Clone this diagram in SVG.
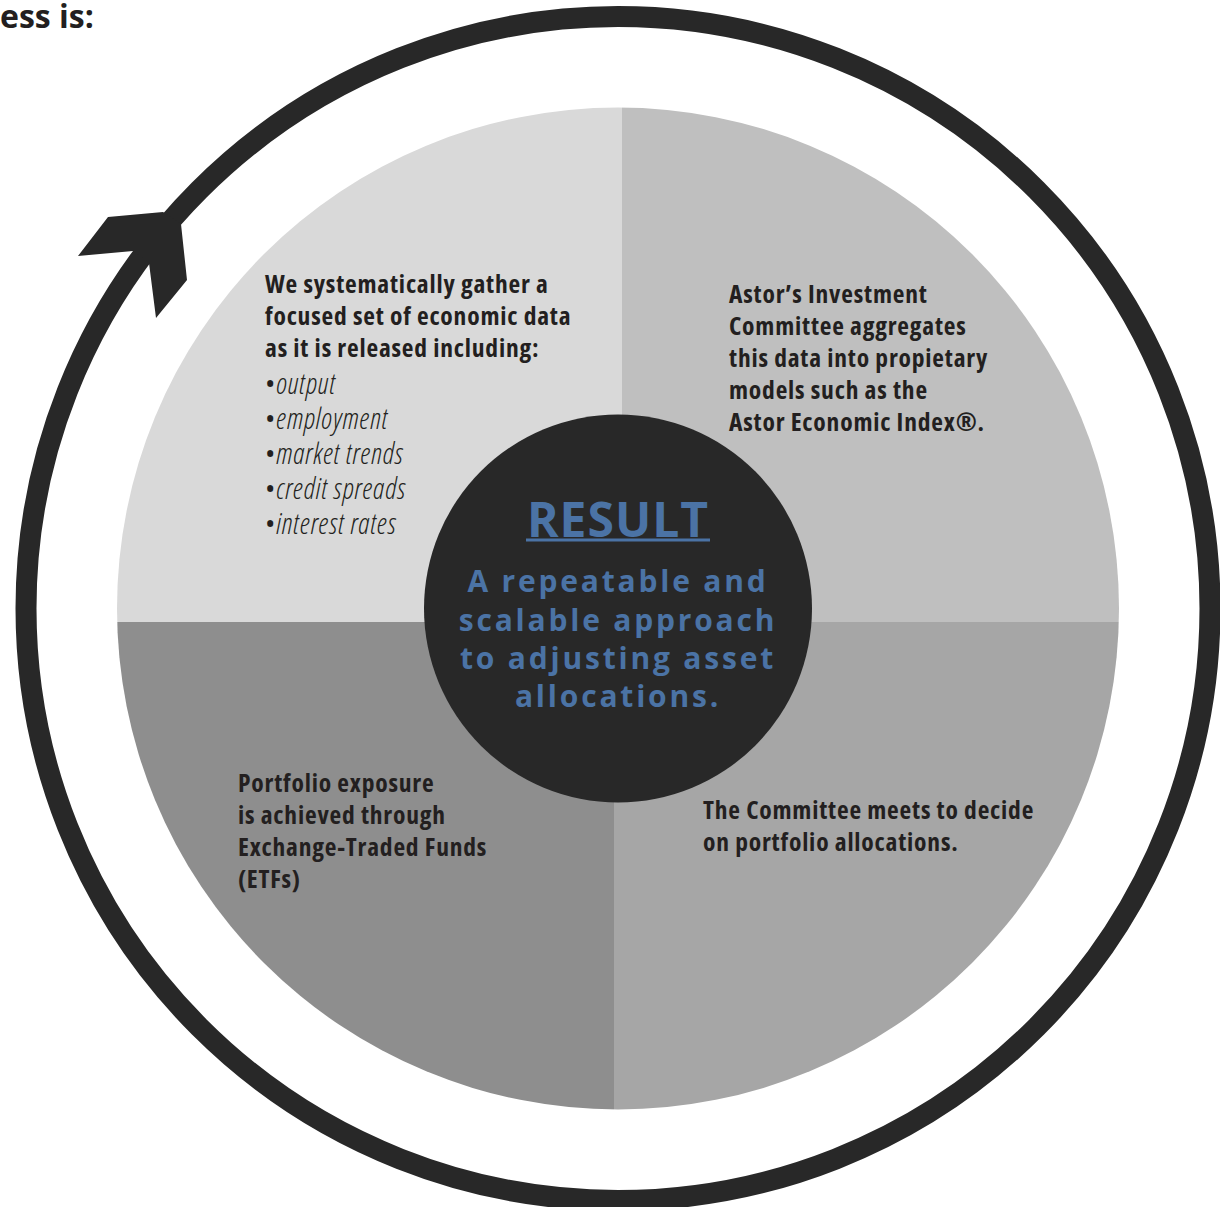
<svg xmlns="http://www.w3.org/2000/svg" width="1220" height="1207" viewBox="0 0 1220 1207">
  <defs>
    <clipPath id="pie-clip">
      <circle cx="618" cy="608.5" r="501"/>
    </clipPath>
    <style>
      .body { font-family: "Open Sans", "Liberation Sans", sans-serif; font-stretch: 82%; font-weight: 700; font-size: 25.5px; letter-spacing: 0.8px; fill: #231f20; }
      .item { font-family: "Open Sans", "Liberation Sans", sans-serif; font-stretch: 80%; font-weight: 300; font-style: italic; font-size: 28.5px; letter-spacing: 0.8px; fill: #231f20; }
      .bullet { font-style: normal; }
      .result { font-family: "Open Sans", "Liberation Sans", sans-serif; font-weight: 700; fill: #4b73a5; text-anchor: middle; }
      .heading { font-family: "Open Sans", "Liberation Sans", sans-serif; font-weight: 700; font-size: 32px; fill: #231f20; }
    </style>
  </defs>

  <rect width="1220" height="1207" fill="#ffffff"/>

  <text class="heading" x="0" y="28">ess is:</text>

  <!-- four process steps as pie quadrants -->
  <g clip-path="url(#pie-clip)">
    <g id="step-gather"><rect x="100" y="90" width="522" height="532" fill="#d9d9d9"/></g>
    <g id="step-aggregate"><rect x="622" y="90" width="520" height="532" fill="#bfbfbf"/></g>
    <g id="step-decide"><rect x="614" y="622" width="528" height="500" fill="#a6a6a6"/></g>
    <g id="step-execute"><rect x="100" y="622" width="514" height="500" fill="#8e8e8e"/></g>
  </g>

  <!-- cycle ring with direction arrow -->
  <g id="connectors">
    <circle cx="618" cy="608.5" r="592" fill="none" stroke="#282828" stroke-width="21"/>
    <polygon points="78,256 108,217 163,212 181,224 187,280 156,318 149,263 133,251" fill="#282828"/>
  </g>

  <g id="label-gather">
    <text class="body" x="265" y="293">We systematically gather a</text>
    <text class="body" x="265" y="325">focused set of economic data</text>
    <text class="body" x="265" y="357">as it is released including:</text>
    <text class="item" x="265" y="394"><tspan class="bullet">•</tspan>output</text>
    <text class="item" x="265" y="429"><tspan class="bullet">•</tspan>employment</text>
    <text class="item" x="265" y="464"><tspan class="bullet">•</tspan>market trends</text>
    <text class="item" x="265" y="499"><tspan class="bullet">•</tspan>credit spreads</text>
    <text class="item" x="265" y="534"><tspan class="bullet">•</tspan>interest rates</text>
  </g>

  <g id="label-aggregate">
    <text class="body" x="729" y="303">Astor’s Investment</text>
    <text class="body" x="729" y="335">Committee aggregates</text>
    <text class="body" x="729" y="367">this data into propietary</text>
    <text class="body" x="729" y="399">models such as the</text>
    <text class="body" x="729" y="431">Astor Economic Index®.</text>
  </g>

  <g id="label-decide">
    <text class="body" x="703" y="819">The Committee meets to decide</text>
    <text class="body" x="703" y="851">on portfolio allocations.</text>
  </g>

  <g id="label-execute">
    <text class="body" x="238" y="792">Portfolio exposure</text>
    <text class="body" x="238" y="824">is achieved through</text>
    <text class="body" x="238" y="856">Exchange-Traded Funds</text>
    <text class="body" x="238" y="888">(ETFs)</text>
  </g>

  <!-- central outcome -->
  <g id="result">
    <circle cx="618" cy="608.5" r="194" fill="#282828"/>
    <text class="result" x="618" y="537" font-size="48" letter-spacing="1">RESULT</text>
    <rect x="526" y="538.5" width="184" height="3" fill="#4b73a5"/>
    <text class="result" x="618" y="592" font-size="30" letter-spacing="2.8">A repeatable and</text>
    <text class="result" x="618" y="631" font-size="30" letter-spacing="2.8">scalable approach</text>
    <text class="result" x="618" y="669" font-size="30" letter-spacing="2.8">to adjusting asset</text>
    <text class="result" x="618" y="707" font-size="30" letter-spacing="2.8">allocations.</text>
  </g>
</svg>
